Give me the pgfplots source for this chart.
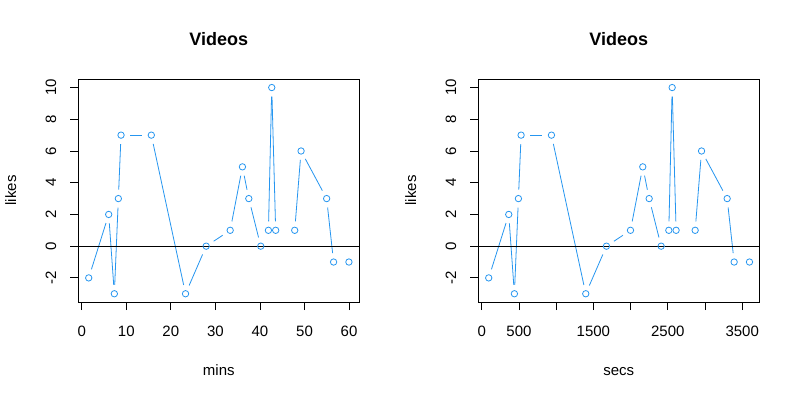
\documentclass[border=0pt]{standalone}
\usepackage{pgfplots}
\pgfplotsset{compat=1.18}
\usepackage{pgfplotstable}
\usepackage{fontspec}
\setmainfont{Liberation Sans}
\definecolor{rblue}{RGB}{38,150,240}

\pgfplotstableread{
x y
1.57 -2
6.05 2
7.32 -3
8.22 3
8.82 7
15.62 7
23.30 -3
27.93 0
33.32 1
36.07 5
37.50 3
40.18 0
41.90 1
42.65 10
43.53 1
47.80 1
49.23 6
54.97 3
56.53 -1
59.97 -1
}\minspts

\pgfplotstableread{
x y nx ny
1.57 -2 6.05 2
6.05 2 7.32 -3
7.32 -3 8.22 3
8.22 3 8.82 7
8.82 7 15.62 7
15.62 7 23.30 -3
23.30 -3 27.93 0
27.93 0 33.32 1
33.32 1 36.07 5
36.07 5 37.50 3
37.50 3 40.18 0
41.90 1 42.65 10
42.65 10 43.53 1
47.80 1 49.23 6
49.23 6 54.97 3
54.97 3 56.53 -1
}\minssegs

\pgfplotstableread{
x y
94 -2
363 2
439 -3
493 3
529 7
937 7
1398 -3
1676 0
1999 1
2164 5
2250 3
2411 0
2514 1
2559 10
2612 1
2868 1
2954 6
3298 3
3392 -1
3598 -1
}\secspts

\pgfplotstableread{
x y nx ny
94 -2 363 2
363 2 439 -3
439 -3 493 3
493 3 529 7
529 7 937 7
937 7 1398 -3
1398 -3 1676 0
1676 0 1999 1
1999 1 2164 5
2164 5 2250 3
2250 3 2411 0
2514 1 2559 10
2559 10 2612 1
2868 1 2954 6
2954 6 3298 3
3298 3 3392 -1
}\secssegs

\pgfplotsset{
  rstyle/.style={
    scale only axis, width=281pt, height=222.7pt,
    axis on top,
    ymin=-3.52, ymax=10.52,
    ytick={-2,0,2,4,6,8,10},
    yticklabels={-2,0,2,4,6,8,10},
    tick align=outside,
    xtick pos=left, ytick pos=left,
    major tick length=8pt,
    tick style={black, line width=0.8pt},
    axis line style={black, line width=0.8pt},
    tick label style={font=\fontsize{15}{18}\selectfont},
    yticklabel style={rotate=90, anchor=base},
    xticklabel style={anchor=base},
    xticklabel shift=26.5pt,
    yticklabel shift=14.3pt,
  },
  segstyle/.style={rblue, line width=0.8pt, no markers,
    quiver={u=\thisrow{nx}-\thisrow{x}, v=\thisrow{ny}-\thisrow{y}},
    shorten <=9pt, shorten >=9pt},
  ptstyle/.style={rblue, only marks, mark=o, mark size=3.2pt,
    mark options={line width=0.8pt}},
}

\begin{document}
\begin{tikzpicture}
\useasboundingbox (0,0) rectangle (800pt,400pt);
\fill[white] (0,0) rectangle (800pt,400pt);

\begin{axis}[rstyle, at={(78.3pt,98pt)}, anchor=south west,
  xmin=-0.77, xmax=62.3,
  xtick={0,10,20,30,40,50,60},
  xticklabels={0,10,20,30,40,50,60}]
\addplot[segstyle] table[x=x,y=y] {\minssegs};
\addplot[ptstyle] table[x=x,y=y] {\minspts};
\addplot[black, line width=0.8pt, no markers] coordinates {(-0.77,0) (62.3,0)};
\end{axis}

\begin{axis}[rstyle, at={(478.3pt,98pt)}, anchor=south west,
  xmin=-46, xmax=3730,
  xtick={0,500,1000,1500,2000,2500,3000,3500},
  xticklabels={0,500,,1500,,2500,,3500}]
\addplot[segstyle] table[x=x,y=y] {\secssegs};
\addplot[ptstyle] table[x=x,y=y] {\secspts};
\addplot[black, line width=0.8pt, no markers] coordinates {(-46,0) (3730,0)};
\end{axis}

\node[anchor=base, font=\bfseries\fontsize{18}{22}\selectfont] at (218.8pt,354.3pt) {Videos};
\node[anchor=base, font=\bfseries\fontsize{18}{22}\selectfont] at (618.8pt,354.3pt) {Videos};
\node[anchor=base, font=\fontsize{15}{18}\selectfont] at (218.8pt,25pt) {mins};
\node[anchor=base, font=\fontsize{15}{18}\selectfont] at (618.8pt,25pt) {secs};
\node[anchor=base, rotate=90, font=\fontsize{15}{18}\selectfont] at (16pt,209.6pt) {likes};
\node[anchor=base, rotate=90, font=\fontsize{15}{18}\selectfont] at (416pt,209.6pt) {likes};
\end{tikzpicture}
\end{document}
